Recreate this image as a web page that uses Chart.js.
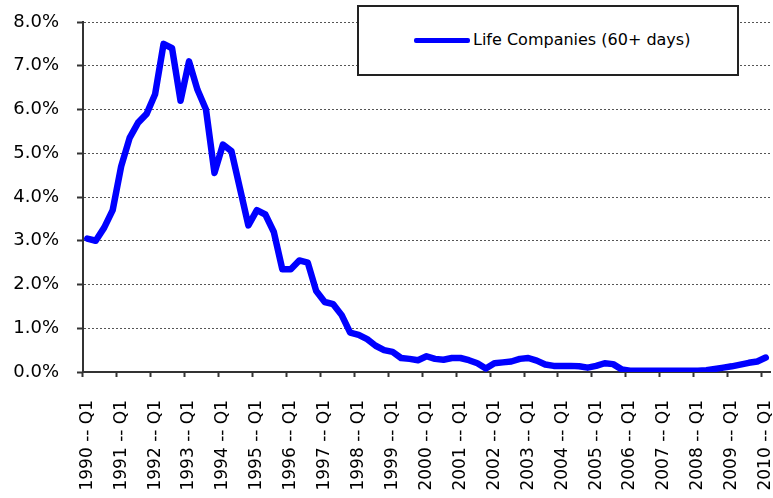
<!DOCTYPE html>
<html>
<head>
<meta charset="utf-8">
<script src="https://cdn.jsdelivr.net/npm/chart.js@4/dist/chart.umd.min.js"></script>
<style>
  html, body { margin: 0; padding: 0; background: #fff; }
  #wrap { position: relative; width: 773px; height: 498px; }
  #legend {
    position: absolute; left: 357px; top: 5px; width: 378px; height: 67px;
    background: #fff; border: 2px solid #222; box-sizing: content-box;
    font-family: "DejaVu Sans", Verdana, sans-serif; font-size: 16px; color: #000;
  }
  #legend .swatch {
    position: absolute; left: 55px; top: 31px; width: 56px; height: 5px;
    background: #0000ff; border-radius: 2px;
  }
  #legend .txt { position: absolute; left: 114px; top: 23px; white-space: nowrap; }
</style>
</head>
<body>
<div id="wrap">
  <canvas id="chart" width="773" height="498"></canvas>
  <div id="legend"><span class="swatch"></span><span class="txt" id="legendText"></span></div>
</div>
<script>
// --- données ---
const years = [1990, 1991, 1992, 1993, 1994, 1995, 1996, 1997, 1998, 1999,
               2000, 2001, 2002, 2003, 2004, 2005, 2006, 2007, 2008, 2009, 2010];
const quarters = ["Q1", "Q2", "Q3", "Q4"];
const seriesName = "Life Companies (60+ days)";

// % de prêts en retard de 60 jours et plus, trimestriel 1990 Q1 -> 2010 Q1
const delinquency = [
  3.05, 3.0, 3.3, 3.7,      // 1990
  4.7, 5.35, 5.7, 5.9,      // 1991
  6.35, 7.5, 7.4, 6.2,      // 1992
  7.1, 6.45, 6.0, 4.55,     // 1993
  5.2, 5.05, 4.2, 3.35,     // 1994
  3.7, 3.6, 3.2, 2.35,      // 1995
  2.35, 2.55, 2.5, 1.85,    // 1996
  1.6, 1.55, 1.3, 0.9,      // 1997
  0.85, 0.75, 0.6, 0.5,     // 1998
  0.46, 0.32, 0.3, 0.27,    // 1999
  0.36, 0.3, 0.28, 0.32,    // 2000
  0.32, 0.27, 0.2, 0.08,    // 2001
  0.2, 0.22, 0.24, 0.3,     // 2002
  0.32, 0.26, 0.17, 0.14,   // 2003
  0.14, 0.14, 0.13, 0.1,    // 2004
  0.14, 0.2, 0.18, 0.06,    // 2005
  0.03, 0.03, 0.03, 0.03,   // 2006
  0.03, 0.03, 0.03, 0.03,   // 2007
  0.03, 0.04, 0.07, 0.1,    // 2008
  0.13, 0.17, 0.21, 0.24,   // 2009
  0.33                      // 2010 Q1
];

const yTicks = [0, 1, 2, 3, 4, 5, 6, 7, 8];

// libellés "1990 -- Q1", ... (s'arrête à 2010 Q1)
const labels = [];
years.forEach(y => quarters.forEach(q => {
  if (labels.length < delinquency.length) labels.push(`${y} -- ${q}`);
}));

const FONT = "'DejaVu Sans', Verdana, sans-serif";
const AXIS = "#333";

document.getElementById("legendText").textContent = seriesName;

new Chart(document.getElementById("chart"), {
  type: "line",
  data: {
    labels,
    datasets: [{
      label: seriesName,
      data: delinquency,
      borderColor: "#0000ff",
      backgroundColor: "#0000ff",
      borderWidth: 6.5,
      borderJoinStyle: "round",
      borderCapStyle: "round",
      pointRadius: 0,
      tension: 0,
      fill: false
    }]
  },
  options: {
    responsive: false,
    animation: false,
    layout: { padding: { top: 22, right: 3, left: 0, bottom: 0 } },
    plugins: { legend: { display: false }, tooltip: { enabled: false } },
    scales: {
      x: {
        offset: true,
        grid: {
          offset: true,
          drawOnChartArea: false,
          drawTicks: true,
          tickLength: 5,
          tickWidth: 2,
          tickColor: ctx => ctx.index % 4 === 0 ? AXIS : "rgba(0,0,0,0)"
        },
        border: { color: AXIS, width: 2 },
        ticks: {
          autoSkip: false,
          minRotation: 90,
          maxRotation: 90,
          padding: 23,
          color: "#000",
          font: { family: FONT, size: 17 },
          callback: (v, i) => i % 4 === 0 ? labels[i] : ""
        },
        // pas de marge automatique à droite pour le dernier libellé
        afterFit: s => { s.height = 126; s.paddingLeft = 0; s.paddingRight = 0; }
      },
      y: {
        min: yTicks[0],
        max: yTicks[yTicks.length - 1],
        afterBuildTicks: s => { s.ticks = yTicks.map(v => ({ value: v })); },
        grid: {
          color: "#555",
          lineWidth: 1,
          drawTicks: true,
          tickLength: 6,
          tickWidth: 2,
          tickColor: AXIS
        },
        border: { color: AXIS, width: 2, dash: [2, 2] },
        ticks: {
          padding: 18,
          color: "#000",
          font: { family: FONT, size: 18 },
          callback: v => v.toFixed(1) + "%"
        },
        afterFit: s => { s.width = 83; s.paddingTop = 0; s.paddingBottom = 0; }
      }
    }
  }
});
</script>
</body>
</html>
